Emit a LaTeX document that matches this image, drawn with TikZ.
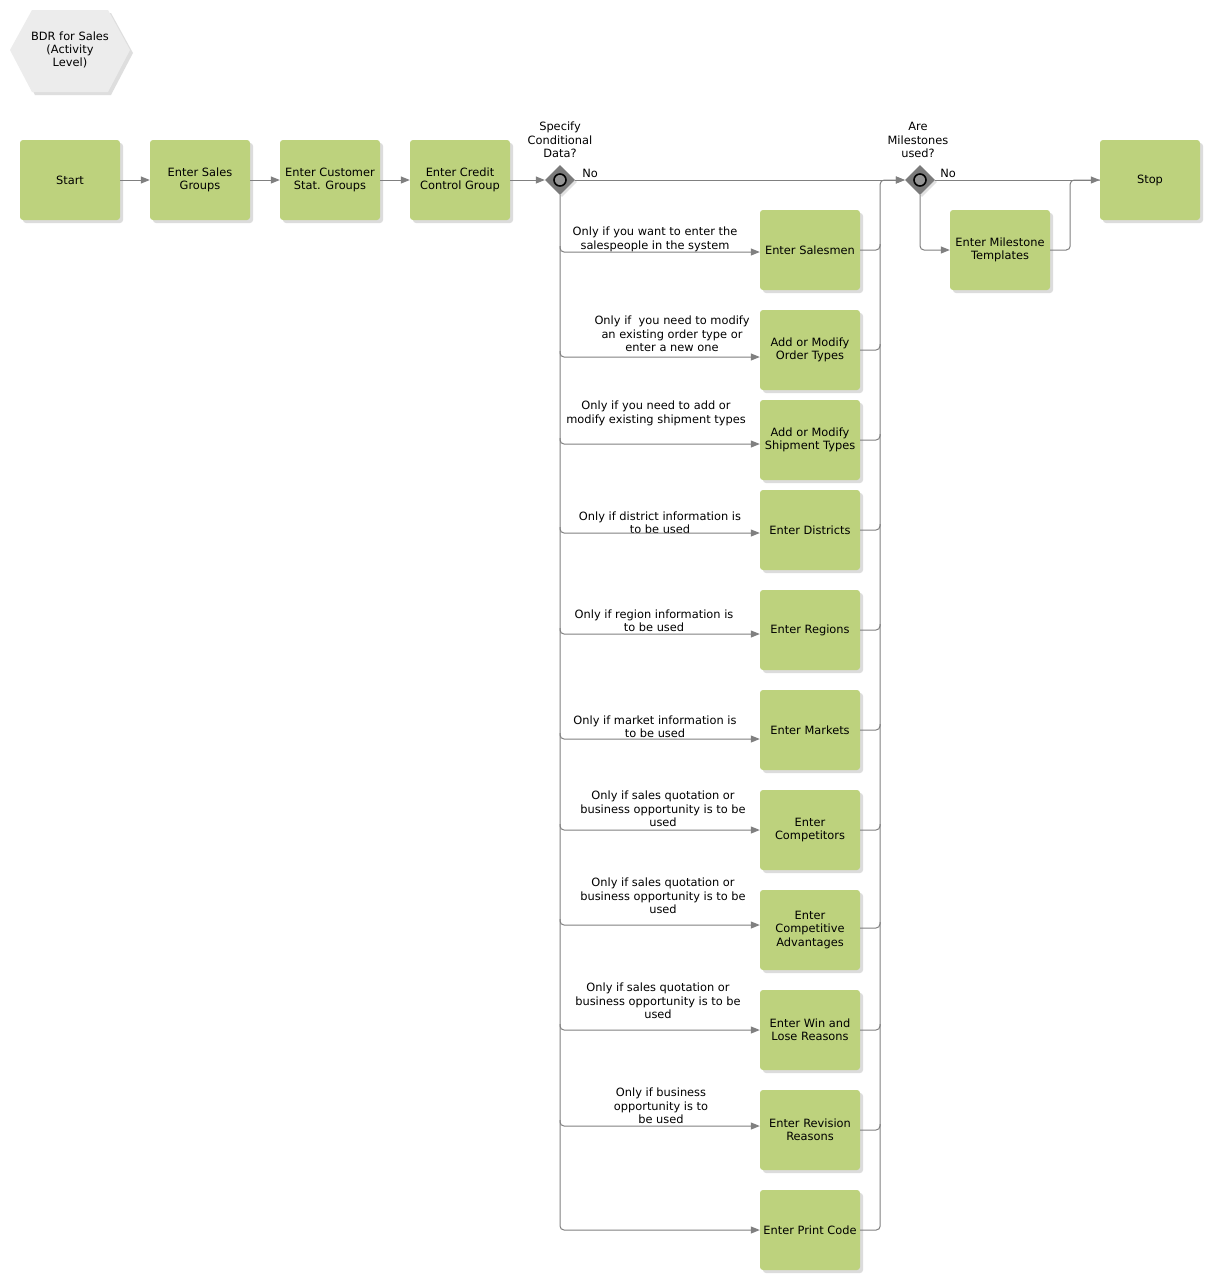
\documentclass[tikz,border=0pt]{standalone}
\usepackage{fontspec}
\setmainfont{DejaVu Sans}
\usepackage{xcolor}
\usepackage{tikz}
\usetikzlibrary{arrows.meta,positioning,shapes.geometric,shadows,calc}
\definecolor{taskgreen}{RGB}{189,210,125}
\definecolor{linegray}{RGB}{128,128,128}
\definecolor{gategray}{RGB}{122,122,122}
\definecolor{hexgray}{RGB}{236,236,236}
\newcommand{\bdrfont}{\fontsize{11.4}{13.4}\selectfont}
\tikzset{
  task/.style={rectangle, rounded corners=3pt, fill=taskgreen, align=center,
               minimum width=100pt, minimum height=80pt, inner sep=2pt, font=\bdrfont,
               drop shadow={shadow xshift=3pt, shadow yshift=-3pt, fill=black!30, opacity=0.45}},
  gate/.style={diamond, fill=gategray, minimum width=30pt, minimum height=30pt, inner sep=0pt,
               drop shadow={shadow xshift=2pt, shadow yshift=-2pt, fill=black!30, opacity=0.4}},
  ring/.style={circle, draw=black, line width=1.6pt, fill=black!42, minimum size=12pt, inner sep=0pt},
  note/.style={align=center, inner sep=0pt, font=\bdrfont},
  flow/.style={-{Triangle[length=9pt, width=7pt]}, draw=linegray, line width=1pt, rounded corners=4pt},
  link/.style={draw=linegray, line width=1pt, rounded corners=4pt},
}

\begin{document}
\begin{tikzpicture}[x=1pt, y=-1pt]
  \path[use as bounding box, fill=white] (0,0) rectangle (1210,1280);

  % title
  \path[fill=hexgray, drop shadow={shadow xshift=3pt, shadow yshift=-3pt, fill=black!25, opacity=0.5}]
    (10,50) -- (32,10) -- (108,10) -- (130,50) -- (108,92) -- (32,92) -- cycle;
  \node[note] (title) at (70,50) {BDR for Sales\\(Activity\\Level)};

  % main row
  \node[task] (start) at (70,180)  {Start};
  \node[task] (sg)    at (200,180) {Enter Sales\\Groups};
  \node[task] (csg)   at (330,180) {Enter Customer\\Stat. Groups};
  \node[task] (ccg)   at (460,180) {Enter Credit\\Control Group};
  \node[gate] (g1)    at (560,180) {};
  \node[ring] (g1c)   at (g1) {};
  \node[note] (g1t)   at (560,140) {Specify\\Conditional\\Data?};
  \node[gate] (g2)    at (920,180) {};
  \node[ring] (g2c)   at (g2) {};
  \node[note] (g2t)   at (918,140) {Are\\Milestones\\used?};
  \node[task] (mt)    at (1000,250) {Enter Milestone\\Templates};
  \node[task] (stop)  at (1150,180) {Stop};
  \coordinate (bus) at (880,180);

  % optional steps
  \node[task] (sm) at (810,250)  {Enter Salesmen};
  \node[task] (ot) at (810,350)  {Add or Modify\\Order Types};
  \node[task] (st) at (810,440)  {Add or Modify\\Shipment Types};
  \node[task] (di) at (810,530)  {Enter Districts};
  \node[task] (re) at (810,630)  {Enter Regions};
  \node[task] (ma) at (810,730)  {Enter Markets};
  \node[task] (co) at (810,830)  {Enter\\Competitors};
  \node[task] (ca) at (810,930)  {Enter\\Competitive\\Advantages};
  \node[task] (wl) at (810,1030) {Enter Win and\\Lose Reasons};
  \node[task] (rr) at (810,1130) {Enter Revision\\Reasons};
  \node[task] (pc) at (810,1230) {Enter Print Code};

  % conditions
  \node[note] (c1)  at (655,239.5) {Only if you want to enter the\\salespeople in the system};
  \node[note] (c2)  at (672,334)   {Only if~ you need to modify\\an existing order type or\\enter a new one};
  \node[note] (c3)  at (656,413.5) {Only if you need to add or\\modify existing shipment types};
  \node[note] (c4)  at (660,522.5) {Only if district information is\\to be used};
  \node[note] (c5)  at (654,620.5) {Only if region information is\\to be used};
  \node[note] (c6)  at (655,726.5) {Only if market information is\\to be used};
  \node[note] (c7)  at (663,809)   {Only if sales quotation or\\business opportunity is to be\\used};
  \node[note] (c8)  at (663,896)   {Only if sales quotation or\\business opportunity is to be\\used};
  \node[note] (c9)  at (658,1001)  {Only if sales quotation or\\business opportunity is to be\\used};
  \node[note] (c10) at (661,1106)  {Only if business\\opportunity is to\\be used};

  % entry points
  \coordinate (sm-in) at ([yshift=-2pt]sm.west);
  \coordinate (ot-in) at ([yshift=-7pt]ot.west);
  \coordinate (st-in) at ([yshift=-4pt]st.west);
  \coordinate (di-in) at ([yshift=-3pt]di.west);
  \coordinate (re-in) at ([yshift=-4pt]re.west);
  \coordinate (ma-in) at ([yshift=-9pt]ma.west);
  \coordinate (co-in) at (co.west);
  \coordinate (ca-in) at ([yshift=5pt]ca.west);
  \coordinate (wl-in) at (wl.west);
  \coordinate (rr-in) at ([yshift=4pt]rr.west);

  % flow
  \draw[flow] (start) -- (sg);
  \draw[flow] (sg) -- (csg);
  \draw[flow] (csg) -- (ccg);
  \draw[flow] (ccg) -- (g1);
  \draw[flow] (g1) -- (g2);
  \node[note] (no1) at (590,173) {No};
  \draw[flow] (g2) -- (stop);
  \node[note] (no2) at (948,173) {No};
  \draw[flow] (g2) |- (mt);
  \draw[link] (mt.east) -- ++(20,0) |- (stop.west);

  \draw[flow] (g1) |- (pc.west);
  \draw[flow] ([yshift=6pt]g1 |- sm-in) |- (sm-in);
  \draw[flow] ([yshift=6pt]g1 |- ot-in) |- (ot-in);
  \draw[flow] ([yshift=6pt]g1 |- st-in) |- (st-in);
  \draw[flow] ([yshift=6pt]g1 |- di-in) |- (di-in);
  \draw[flow] ([yshift=6pt]g1 |- re-in) |- (re-in);
  \draw[flow] ([yshift=6pt]g1 |- ma-in) |- (ma-in);
  \draw[flow] ([yshift=6pt]g1 |- co-in) |- (co-in);
  \draw[flow] ([yshift=6pt]g1 |- ca-in) |- (ca-in);
  \draw[flow] ([yshift=6pt]g1 |- wl-in) |- (wl-in);
  \draw[flow] ([yshift=6pt]g1 |- rr-in) |- (rr-in);

  \draw[flow] (pc.east) -- ++(20,0) |- (g2.west);
  \draw[link] (sm.east) -| ([yshift=6pt]bus |- sm.east);
  \draw[link] (ot.east) -| ([yshift=6pt]bus |- ot.east);
  \draw[link] (st.east) -| ([yshift=6pt]bus |- st.east);
  \draw[link] (di.east) -| ([yshift=6pt]bus |- di.east);
  \draw[link] (re.east) -| ([yshift=6pt]bus |- re.east);
  \draw[link] (ma.east) -| ([yshift=6pt]bus |- ma.east);
  \draw[link] (co.east) -| ([yshift=6pt]bus |- co.east);
  \draw[link] ([yshift=2pt]ca.east) -| ([yshift=8pt]bus |- ca.east);
  \draw[link] (wl.east) -| ([yshift=6pt]bus |- wl.east);
  \draw[link] (rr.east) -| ([yshift=6pt]bus |- rr.east);
\end{tikzpicture}
\end{document}
